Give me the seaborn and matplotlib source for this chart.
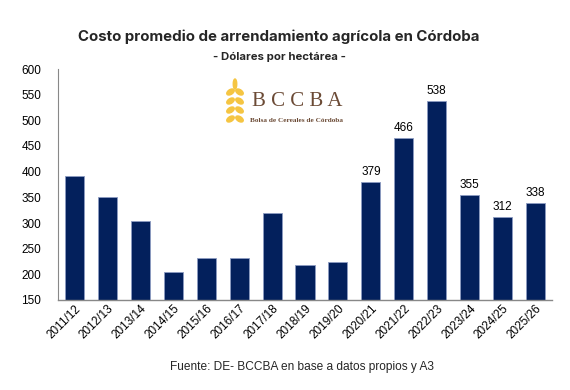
import matplotlib
matplotlib.use("Agg")
import matplotlib.pyplot as plt
import seaborn as sns
import pandas as pd
from matplotlib.patches import Ellipse

campaigns = ["2011/12", "2012/13", "2013/14", "2014/15", "2015/16", "2016/17", "2017/18",
             "2018/19", "2019/20", "2020/21", "2021/22", "2022/23", "2023/24", "2024/25", "2025/26"]
values = [391, 350, 303, 205, 231, 231, 320, 218, 225, 379, 466, 538, 355, 312, 338]
labelled_from = "2020/21"

title = "Costo promedio de arrendamiento agrícola en Córdoba"
subtitle = "- Dólares por hectárea -"
source = "Fuente: DE- BCCBA en base a datos propios y A3"

df = pd.DataFrame({"campaign": campaigns, "value": values})

sns.set_theme(style="white")
plt.rcParams["font.family"] = ["Liberation Sans", "DejaVu Sans"]

fig = plt.figure(figsize=(5.7, 3.9), dpi=100)
ax = fig.add_axes([58/570, 1-300/390, (552-58)/570, (300-69)/390])

navy = "#03205C"
sns.barplot(data=df, x="campaign", y="value", color=navy, width=0.58, ax=ax,
            edgecolor="#8C9BC2", linewidth=0.6, saturation=1)

ax.set_ylim(150, 600)
ax.set_yticks(range(150, 601, 50))
ax.set_xlim(-0.5, len(campaigns) - 0.5)
ax.set_xlabel("")
ax.set_ylabel("")
ax.tick_params(axis="y", labelsize=8.5, length=0, pad=12, colors="black")
ax.tick_params(axis="x", labelsize=8.5, length=0, pad=2, colors="black")
for lbl in ax.get_xticklabels():
    lbl.set_rotation(45)
    lbl.set_ha("right")
    lbl.set_rotation_mode("anchor")

for s in ["top", "right"]:
    ax.spines[s].set_visible(False)
ax.spines["left"].set_color("#888888")
ax.spines["bottom"].set_color("#888888")
ax.spines["left"].set_linewidth(0.8)
ax.spines["bottom"].set_linewidth(1.0)

start = campaigns.index(labelled_from)
for i, v in enumerate(values):
    if i >= start:
        ax.text(i, v + 8, f"{v}", ha="center", va="bottom", fontsize=8.5, color="black")

fig.text(279/570, 1-37/390, title, ha="center", va="center", fontsize=10.8,
         fontweight="bold", family=["Inter", "DejaVu Sans"])
fig.text(279/570, 1-57/390, subtitle, ha="center", va="center", fontsize=8.2,
         fontweight="bold", family=["Inter", "DejaVu Sans"])
fig.text(302/570, 1-367/390, source, ha="center", va="center", fontsize=8.6)

# Logo
fig.text(297/570, 1-101/390, "B C C B A", ha="center", va="center", fontsize=15,
         color="#6B4A35", family=["Liberation Serif"])
fig.text(297/570, 1-120/390, "Bolsa de Cereales de Córdoba", ha="center", va="center",
         fontsize=5.2, color="#6B4A35", family=["Liberation Serif"], fontweight="bold")
gold = "#F5C542"
for k in range(4):
    yy = 1 - (92 + k * 9) / 390
    for dx, ang in [(-4.5, 55), (4.5, -55)]:
        e = Ellipse(((235 + dx) / 570, yy), 10/570, 4/390, angle=ang,
                    transform=fig.transFigure, color=gold)
        fig.patches.append(e)
fig.patches.append(Ellipse((235/570, 1-84/390), 3.5/570, 10/390, transform=fig.transFigure, color=gold))

fig.savefig("out.png", dpi=100)
